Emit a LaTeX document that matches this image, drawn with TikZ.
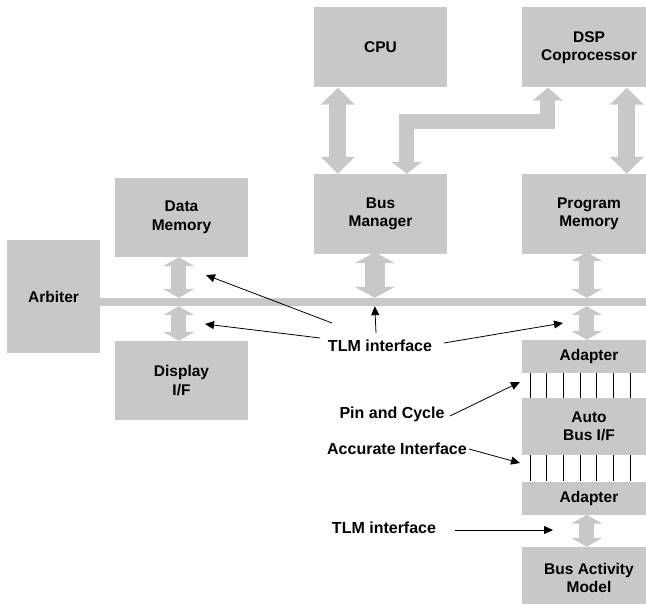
\documentclass[tikz,border=0pt]{standalone}
\usepackage{fontspec}
\setmainfont{Liberation Sans}
\usetikzlibrary{arrows.meta}
\definecolor{blockgray}{RGB}{200,200,200}
\begin{document}
\begin{tikzpicture}[x=1pt,y=-1pt,
  block/.style={fill=blockgray, inner sep=0pt, align=center,
    font=\fontsize{15.5}{18.5}\selectfont\bfseries},
  wide/.style={block, minimum width=133pt, minimum height=80pt},
  lbl/.style={inner sep=0pt, font=\fontsize{16}{19}\selectfont\bfseries},
  bigdbl/.style={draw=blockgray, line width=17pt,
    {Triangle[length=17pt,width=33pt]}-{Triangle[length=17pt,width=33pt]}},
  smalldbl/.style={draw=blockgray, line width=15pt,
    {Triangle[length=9pt,width=31pt]}-{Triangle[length=9pt,width=31pt]}},
  mgrdbl/.style={draw=blockgray, line width=20pt,
    {Triangle[length=11pt,width=40pt]}-{Triangle[length=11pt,width=40pt]}},
  elbow/.style={draw=blockgray, line width=15pt, miter limit=10,
    {Triangle[length=12pt,width=30pt]}-{Triangle[length=13pt,width=30pt]}},
  ptr/.style={draw=black, line width=0.8pt, -{Triangle[length=9pt,width=8pt]}}
]
\useasboundingbox (0,0) rectangle (646,604);
\clip (0,0) rectangle (646,604);

% blocks
\node[wide] (cpu) at (380.5,47.5) {CPU};
\node[wide, minimum width=134pt] (dsp) at (589,47.5) {DSP\\Coprocessor};
\node[wide] (bm) at (380.5,214) {Bus\\Manager};
\node[wide, minimum width=134pt] (pm) at (589,214) {Program\\Memory};
\node[wide, minimum height=79pt] (dm) at (181.5,217.5) {Data\\Memory};
\node[wide, minimum height=79pt] (disp) at (181.5,380.5) {Display\\I/F};
\node[block, minimum width=93pt, minimum height=113pt] (arb) at (53.5,296.5) {Arbiter};
\node[block, minimum width=134pt, minimum height=33pt] (ad1) at (589,356.5) {Adapter};
\node[block, minimum width=134pt, minimum height=57pt] (abif) at (589,426.5) {Auto\\Bus I/F};
\node[block, minimum width=134pt, minimum height=33pt] (ad2) at (589,498) {Adapter};
\node[block, minimum width=134pt, minimum height=62pt] (bam) at (589,578) {Bus Activity\\Model};

% bus line
\node[fill=blockgray, inner sep=0pt, minimum width=560pt, minimum height=8pt] (bus) at (380,302) {};

% pin-level wires between adapters and the interface block
\foreach \k in {0,...,7} {
  \draw[line width=0.6pt] ([xshift={8+16.667*\k}]ad1.south west) -- ([xshift={8+16.667*\k}]abif.north west);
  \draw[line width=0.6pt] ([xshift={8+16.667*\k}]abif.south west) -- ([xshift={8+16.667*\k}]ad2.north west);
}

% wide transaction arrows
\draw[bigdbl] ([xshift=24pt]cpu.south west) -- ([xshift=24pt]bm.north west);
\draw[bigdbl] ([xshift=105pt]dsp.south west) -- ([xshift=105pt]pm.north west);
\draw[elbow] ([xshift=93pt]bm.north west) -- ++(0,-52) -| ([xshift=26pt]dsp.south west);

\coordinate (dmx) at ([xshift=64pt,yshift=0pt]dm.south west);
\coordinate (bmx) at ([xshift=61pt,yshift=2pt]bm.south west);
\coordinate (pmx) at ([xshift=65pt,yshift=2pt]pm.south west);
\draw[smalldbl] (dmx) -- (dmx |- bus.north);
\draw[smalldbl] (dmx |- bus.south) -- (dmx |- disp.north);
\draw[mgrdbl] (bmx) -- (bmx |- bus.north);
\draw[smalldbl] (pmx) -- (pmx |- bus.north);
\draw[smalldbl] (pmx |- bus.south) -- (pmx |- ad1.north);
\draw[smalldbl] (pmx |- ad2.south) -- (pmx |- bam.north);

% interface labels
\node[lbl] (tlm1) at (380,346) {TLM interface};
\node[lbl] (pin) at (392,414) {Pin and Cycle};
\node[lbl] (acc) at (397,449) {Accurate Interface};
\node[lbl] (tlm2) at (384,528) {TLM interface};

\coordinate (t1a) at (376,333);
\coordinate (t1b) at (332,323);
\coordinate (t1c) at (320,338);
\coordinate (t1d) at (444,343);
\coordinate (dmtip) at (206,275);
\coordinate (disptip) at (205,324);
\coordinate (pmtip) at (563,323);
\draw[ptr] (t1a) -- (bmx |- bus.south);
\draw[ptr] (t1b) -- (dmtip);
\draw[ptr] (t1c) -- (disptip);
\draw[ptr] (t1d) -- (pmtip);

\coordinate (pintail) at (450,416);
\coordinate (pintip) at (520,382);
\coordinate (acctail) at (469,449);
\coordinate (acctip) at (520,463);
\coordinate (tlm2tail) at (455,530);
\coordinate (tlm2tip) at (553,530);
\draw[ptr] (pintail) -- (pintip);
\draw[ptr] (acctail) -- (acctip);
\draw[ptr] (tlm2tail) -- (tlm2tip);
\end{tikzpicture}
\end{document}
